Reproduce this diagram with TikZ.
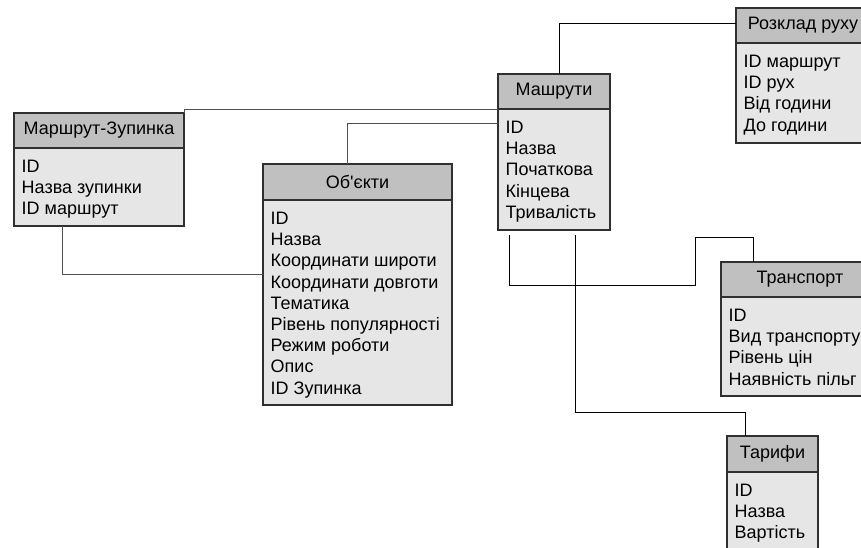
\documentclass[tikz,border=0pt]{standalone}
\usepackage{fontspec}
\newfontfamily\ersans{Liberation Sans}
\usetikzlibrary{calc}
\definecolor{boxline}{HTML}{303030}
\definecolor{hdrfill}{HTML}{C0C0C0}
\definecolor{bodyfill}{HTML}{E6E6E6}
\definecolor{connA}{HTML}{505050}
\tikzset{
  hdr/.style={draw=boxline, fill=hdrfill, line width=1.2pt, inner sep=0pt, outer sep=0pt,
    font=\ersans\fontsize{18}{21}\selectfont},
  bdy/.style={draw=boxline, fill=bodyfill, line width=1.2pt, inner sep=0pt, outer sep=0pt},
  rowtxt/.style={inner sep=0pt, anchor=base west, font=\ersans\fontsize{18}{21}\selectfont},
  conn/.style={line width=0.9pt, black},
  conngray/.style={line width=0.9pt, connA},
}
% #1 name, #2 x, #3 y, #4 width, #5 header height, #6 body height, #7 title, #8 rows
\newcommand{\erbox}[8]{%
  \node[hdr, anchor=north west, minimum width=#4pt, minimum height=#5pt] (#1) at (#2,#3) {\raisebox{-1.5pt}{#7}};
  \node[bdy, anchor=north west, minimum width=#4pt, minimum height=#6pt] (#1b) at (#1.south west) {};
  \foreach \t [count=\i] in {#8}
    \node[rowtxt] at ($(#1b.north west)+(7.5,{24.5+(\i-1)*21.2})$) {\t};
}
\begin{document}
\begin{tikzpicture}[x=1pt,y=-1pt]
\path[use as bounding box] (0,0) rectangle (861,547);
\clip (0,0) rectangle (861,547);
\fill[white] (0,0) rectangle (861,547);

\erbox{mz}{14}{113}{170}{35}{78}{Маршрут-Зупинка}{ID, Назва зупинки, ID маршрут}
\erbox{ob}{263}{164}{189}{36}{205}{Об'єкти}{ID, Назва, Координати широти, Координати довготи, Тематика, Рівень популярності, Режим роботи, Опис, ID Зупинка}
\erbox{ma}{498}{74}{112}{35}{121}{Машрути}{ID, Назва, Початкова, Кінцева, Тривалість}
\erbox{rz}{736}{8}{134}{35}{100}{Розклад руху}{ID маршрут, ID рух, Від години, До години}
\erbox{tr}{721}{262}{158}{35}{99}{Транспорт}{ID, Вид транспорту, Рівень цін, Наявність пільг}
\erbox{ta}{727}{436}{91}{36}{100}{Тарифи}{ID, Назва, Вартість}

% connectors
\draw[conngray] (mz.north east) |- (ma.south west);
\draw[conngray] ([xshift=-10.5pt]ob.north) |- ($(mab.north west)+(0,14)$);
\draw[conngray] ([xshift=48pt]mzb.south west) |- ($(obb.north west)+(0,74)$);
\draw[conn] ([xshift=5pt]ma.north) |- ($(rz.north west)+(0,15)$);
\coordinate (e1) at ($(mab.south west)+(11,5)$);
\coordinate (f1) at ($(mab.south west)+(77,5)$);
\draw[conn] (e1) -- ++(0,50) -| ++(186,-48) -| ([xshift=-47pt]tr.north);
\draw[conn] (f1) -- ++(0,177) -| ([xshift=-27.5pt]ta.north);
\end{tikzpicture}
\end{document}
